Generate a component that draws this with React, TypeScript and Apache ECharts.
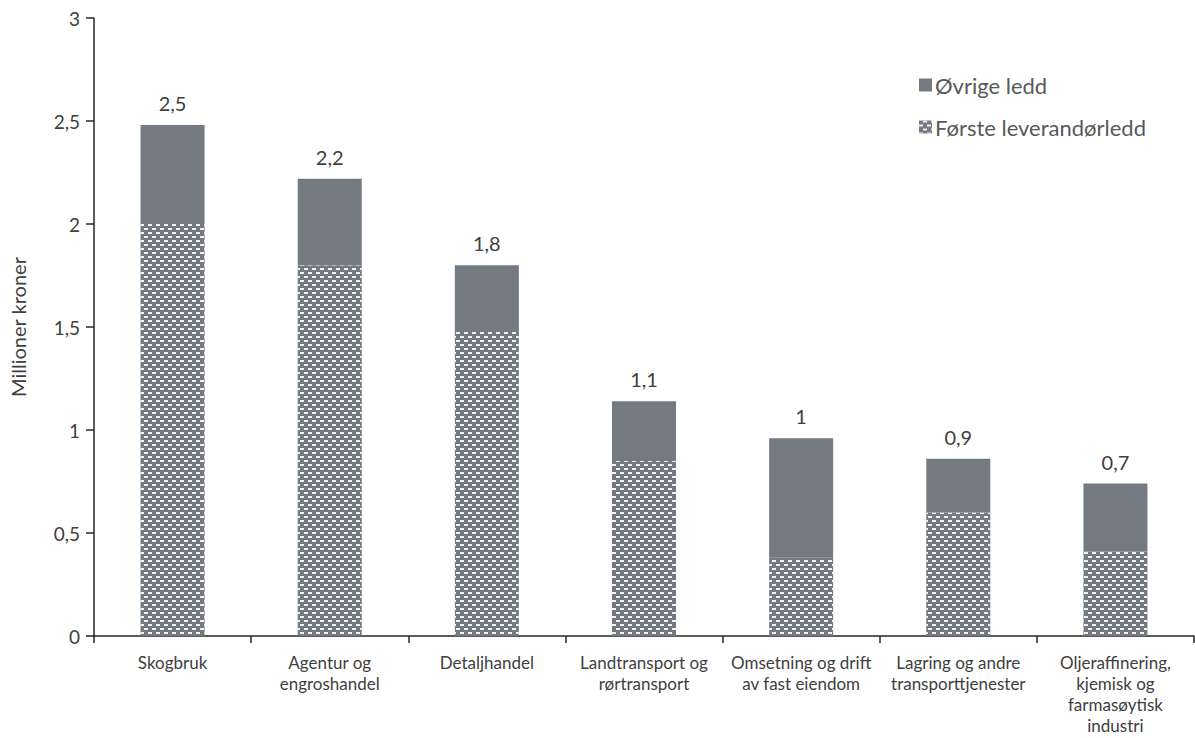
import React, { useEffect, useRef } from "react";
import * as echarts from "echarts";

const categories = [
  "Skogbruk",
  "Agentur og\nengroshandel",
  "Detaljhandel",
  "Landtransport og\nrørtransport",
  "Omsetning og drift\nav fast eiendom",
  "Lagring og andre\ntransporttjenester",
  "Oljeraffinering,\nkjemisk og\nfarmasøytisk\nindustri",
];

// Million NOK per category, split into supply-chain tiers
const firstTier = [2.01, 1.8, 1.48, 0.85, 0.38, 0.6, 0.41];
const otherTiers = [0.47, 0.42, 0.32, 0.29, 0.58, 0.26, 0.33];

const yTicks = [0, 0.5, 1, 1.5, 2, 2.5, 3];

const FONT = "Lato, 'Open Sans', sans-serif";
const BAR = "#737a81";
const TEXT = "#404040";

const fmt = (v: number) => String(Number(v.toFixed(1))).replace(".", ",");

export default function App() {
  const ref = useRef<HTMLDivElement>(null);

  useEffect(() => {
    if (!ref.current) return;
    const chart = echarts.init(ref.current, undefined, { renderer: "svg" });
    const totals = firstTier.map((v, i) => v + otherTiers[i]);

    chart.setOption({
      animation: false,
      textStyle: { fontFamily: FONT },
      grid: { left: 89, right: 1, top: 18, bottom: 102, containLabel: false },
      legend: {
        orient: "vertical",
        left: 914,
        top: 69,
        itemGap: 20,
        itemWidth: 13,
        itemHeight: 13,
        icon: "rect",
        textStyle: { fontSize: 22, color: "#595959", fontFamily: FONT, padding: [0, 0, 0, -2] },
        data: ["Øvrige ledd", "Første leverandørledd"],
      },
      xAxis: {
        type: "category",
        data: categories,
        axisLine: { lineStyle: { color: "#262626", width: 1.5 } },
        axisTick: { show: true, length: 7, lineStyle: { color: "#262626", width: 1.5 } },
        axisLabel: {
          color: TEXT,
          fontSize: 17,
          lineHeight: 21,
          margin: 16,
          interval: 0,
          fontFamily: FONT,
        },
      },
      yAxis: {
        type: "value",
        min: yTicks[0],
        max: yTicks[yTicks.length - 1],
        interval: 0.5,
        name: "Millioner kroner",
        nameLocation: "middle",
        nameRotate: 90,
        nameGap: 66,
        nameTextStyle: { color: TEXT, fontSize: 20, fontFamily: FONT },
        splitLine: { show: false },
        axisLine: { show: true, lineStyle: { color: "#262626", width: 1.5 } },
        axisTick: { show: true, length: 8, lineStyle: { color: "#262626", width: 1.5 } },
        axisLabel: {
          color: TEXT,
          fontSize: 19,
          margin: 14,
          fontFamily: FONT,
          formatter: (v: number) => fmt(v),
        },
      },
      series: [
        {
          name: "Første leverandørledd",
          type: "bar",
          stack: "total",
          barWidth: 64,
          data: firstTier,
          itemStyle: {
            color: BAR,
            decal: {
              symbol: "rect",
              symbolSize: 1,
              color: "rgba(255,255,255,0.9)",
              dashArrayX: [
                [3.5, 3.5],
                [0, 3.5, 3.5, 0],
              ],
              dashArrayY: [1.5, 1.8],
              rotation: 0,
            },
          },
        },
        {
          name: "Øvrige ledd",
          type: "bar",
          stack: "total",
          barWidth: 64,
          data: otherTiers,
          itemStyle: { color: BAR },
          label: {
            show: true,
            position: "top",
            distance: 12,
            color: TEXT,
            fontSize: 20,
            fontFamily: FONT,
            formatter: (p: any) => fmt(totals[p.dataIndex]),
          },
        },
      ],
    });

    return () => chart.dispose();
  }, []);

  return <div ref={ref} style={{ width: 1195, height: 738, position: "absolute", left: 0, top: 0 }} />;
}
